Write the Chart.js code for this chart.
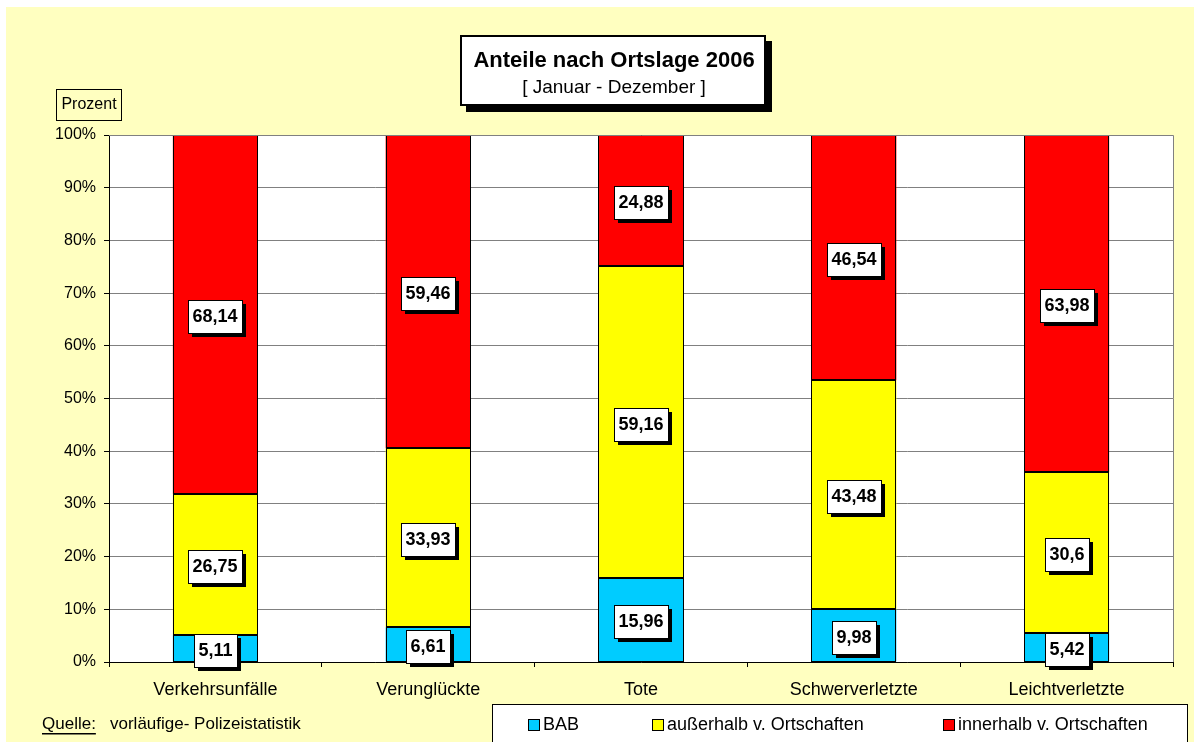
<!DOCTYPE html>
<html lang="de">
<head>
    <meta charset="UTF-8">
    <title>Anteile nach Ortslage 2006</title>
    <style>
        body { margin: 0; background: #ffffff; }
        canvas { display: block; }
    </style>
</head>
<body>
    <canvas id="myChart" width="1194" height="742"></canvas>

    <script src="https://cdn.jsdelivr.net/npm/chart.js"></script>
    <script>
        // Daten
        var categories = ["Verkehrsunfälle", "Verunglückte", "Tote", "Schwerverletzte", "Leichtverletzte"];
        var bab = [5.11, 6.61, 15.96, 9.98, 5.42];
        var ausserhalb = [26.75, 33.93, 59.16, 43.48, 30.6];
        var innerhalb = [68.14, 59.46, 24.88, 46.54, 63.98];
        var yTicks = [0, 10, 20, 30, 40, 50, 60, 70, 80, 90, 100];

        var FONT = "'Liberation Sans', Arial, sans-serif";
        var YELLOW_BG = "#FFFFC0";

        function fmt(v) {
            return String(v).replace(".", ",");
        }

        var decoPlugin = {
            id: "deco",
            beforeDraw: function (chart) {
                var ctx = chart.ctx;
                var a = chart.chartArea;
                ctx.save();
                ctx.fillStyle = "#ffffff";
                ctx.fillRect(0, 0, chart.width, chart.height);
                ctx.fillStyle = YELLOW_BG;
                ctx.fillRect(6, 7, chart.width - 6, chart.height - 7);
                ctx.fillStyle = "#ffffff";
                ctx.fillRect(a.left, a.top, a.right - a.left, a.bottom - a.top);
                ctx.restore();
            },
            afterDatasetsDraw: function (chart) {
                var ctx = chart.ctx;
                ctx.save();

                // scharfe schwarze Balkenrahmen
                ctx.strokeStyle = "#000";
                ctx.lineWidth = 1;
                chart.data.datasets.forEach(function (ds, i) {
                    chart.getDatasetMeta(i).data.forEach(function (bar) {
                        var x0 = Math.round(bar.x - bar.width / 2) + 0.5;
                        var x1 = Math.round(bar.x + bar.width / 2) - 0.5;
                        var y0 = Math.round(Math.min(bar.y, bar.base)) + 0.5;
                        var y1 = Math.round(Math.max(bar.y, bar.base)) - 0.5;
                        ctx.strokeRect(x0, y0, x1 - x0, y1 - y0);
                    });
                });

                ctx.font = "bold 18px " + FONT;
                ctx.textAlign = "center";
                ctx.textBaseline = "middle";
                chart.data.datasets.forEach(function (ds, i) {
                    chart.getDatasetMeta(i).data.forEach(function (bar, j) {
                        var txt = fmt(ds.data[j]);
                        var w = Math.round(ctx.measureText(txt).width + 9);
                        var h = 33;
                        var cx = bar.x;
                        var cy = (bar.y + bar.base) / 2 + 2;
                        var x = Math.round(cx - w / 2), y = Math.round(cy - h / 2);
                        ctx.fillStyle = "#000";
                        ctx.fillRect(x + 4, y + 4, w, h);
                        ctx.fillStyle = "#fff";
                        ctx.fillRect(x, y, w, h);
                        ctx.strokeStyle = "#000";
                        ctx.lineWidth = 1;
                        ctx.strokeRect(x + 0.5, y + 0.5, w, h);
                        ctx.fillStyle = "#000";
                        ctx.fillText(txt, x + w / 2, y + h / 2 + 1);
                    });
                });
                ctx.restore();
            },
            afterDraw: function (chart) {
                var ctx = chart.ctx;
                var a = chart.chartArea;
                ctx.save();

                // Rahmen oben/rechts der Zeichenfläche
                ctx.strokeStyle = "#808080";
                ctx.lineWidth = 1;
                ctx.beginPath();
                ctx.moveTo(a.left, a.top + 0.5);
                ctx.lineTo(a.right + 0.5, a.top + 0.5);
                ctx.lineTo(a.right + 0.5, a.bottom);
                ctx.stroke();

                // Titelbox
                ctx.fillStyle = "#000";
                ctx.fillRect(466, 41, 306, 71);
                ctx.fillStyle = "#fff";
                ctx.fillRect(460, 35, 306, 71);
                ctx.lineWidth = 2;
                ctx.strokeStyle = "#000";
                ctx.strokeRect(461, 36, 304, 69);
                ctx.fillStyle = "#000";
                ctx.textAlign = "center";
                ctx.textBaseline = "middle";
                ctx.font = "bold 22px " + FONT;
                ctx.fillText("Anteile nach Ortslage 2006", 614, 61);
                ctx.font = "19px " + FONT;
                ctx.fillText("[ Januar - Dezember ]", 614, 88);

                // Achsentitel
                ctx.lineWidth = 1;
                ctx.strokeRect(56.5, 89.5, 65, 31);
                ctx.font = "16px " + FONT;
                ctx.fillText("Prozent", 89, 105);

                // Quelle
                ctx.textAlign = "left";
                ctx.font = "17px " + FONT;
                ctx.fillText("Quelle:", 42, 724);
                var qw = ctx.measureText("Quelle:").width;
                ctx.fillRect(42, 733, qw, 1.5);
                ctx.fillText("vorläufige- Polizeistatistik", 110, 724);

                // Legende
                ctx.fillStyle = "#fff";
                ctx.fillRect(492, 704, 695, 40);
                ctx.strokeStyle = "#000";
                ctx.strokeRect(492.5, 704.5, 695, 40);
                var legendX = [528, 652, 943];
                ctx.font = "18px " + FONT;
                chart.data.datasets.forEach(function (ds, i) {
                    var lx = legendX[i];
                    ctx.fillStyle = ds.backgroundColor;
                    ctx.fillRect(lx, 719, 12, 12);
                    ctx.strokeStyle = "#000";
                    ctx.strokeRect(lx + 0.5, 719.5, 11, 11);
                    ctx.fillStyle = "#000";
                    ctx.fillText(ds.label, lx + 15, 725);
                });

                ctx.restore();
            }
        };

        var chart = new Chart("myChart", {
            type: "bar",
            data: {
                labels: categories,
                datasets: [
                    { label: "BAB", data: bab, backgroundColor: "#00CCFF" },
                    { label: "außerhalb v. Ortschaften", data: ausserhalb, backgroundColor: "#FFFF00" },
                    { label: "innerhalb v. Ortschaften", data: innerhalb, backgroundColor: "#FF0000" }
                ]
            },
            options: {
                responsive: false,
                animation: false,
                devicePixelRatio: 1,
                layout: { padding: { left: 0, right: 21, top: 135, bottom: 0 } },
                datasets: {
                    bar: {
                        borderWidth: 0,
                        barPercentage: 0.4,
                        categoryPercentage: 1.0
                    }
                },
                plugins: {
                    legend: { display: false },
                    title: { display: false },
                    tooltip: { enabled: false }
                },
                scales: {
                    x: {
                        stacked: true,
                        offset: true,
                        afterFit: function (s) { s.height = 80; },
                        grid: {
                            drawOnChartArea: false,
                            drawTicks: true,
                            tickLength: 5,
                            color: "#000"
                        },
                        border: { color: "#000", width: 1 },
                        ticks: {
                            color: "#000",
                            font: { family: FONT, size: 18 },
                            padding: 12
                        }
                    },
                    y: {
                        stacked: true,
                        min: 0,
                        max: 100,
                        afterFit: function (s) { s.width = 109; },
                        afterBuildTicks: function (s) {
                            s.ticks = yTicks.map(function (v) { return { value: v }; });
                        },
                        grid: {
                            color: "#808080",
                            tickColor: "#000",
                            tickLength: 5
                        },
                        border: { color: "#000", width: 1 },
                        ticks: {
                            color: "#000",
                            font: { family: FONT, size: 16 },
                            padding: 8,
                            callback: function (v) { return v + "%"; }
                        }
                    }
                }
            },
            plugins: [decoPlugin]
        });
    </script>
</body>
</html>
